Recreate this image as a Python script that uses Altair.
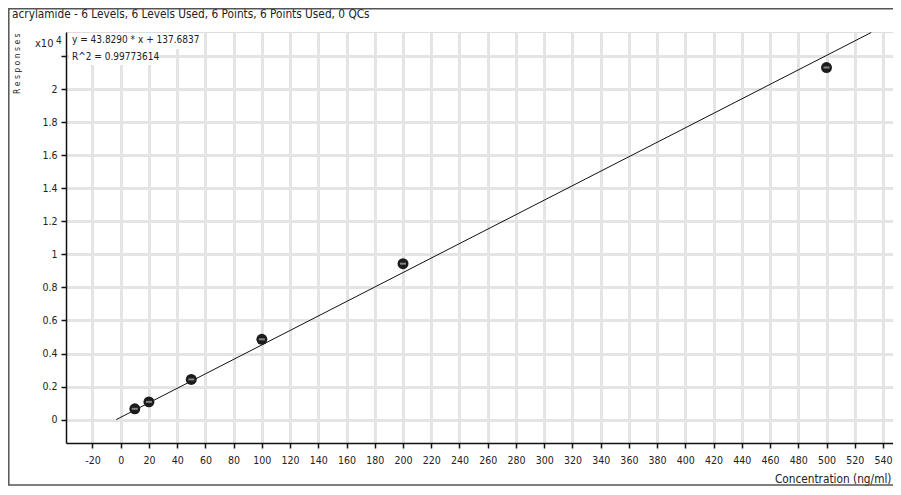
import altair as alt
import pandas as pd

# ---- data ----
conc = [10, 20, 50, 100, 200, 500]                 # ng/ml
resp = [650, 1070, 2430, 4860, 9440, 21320]        # responses
fit_x = [-3.14, 531.7]                             # fitted calibration line end points
fit_y = [0, 23440]
x_ticks = list(range(-20, 541, 20))
y_ticks = [0, 2000, 4000, 6000, 8000, 10000, 12000, 14000, 16000, 18000, 20000, 22000]

title_text = "acrylamide - 6 Levels, 6 Levels Used, 6 Points, 6 Points Used, 0 QCs"
eq_text = "y = 43.8290 * x  + 137.6837"
r2_text = "R^2 = 0.99773614"

FONT = "Liberation Sans Narrow, DejaVu Sans Condensed, Roboto, sans-serif"

W, H = 827, 411
pts = pd.DataFrame({"conc": conc, "resp": resp})
fit = pd.DataFrame({"conc": fit_x, "resp": fit_y})
one = pd.DataFrame({"a": [0]})

xs = alt.Scale(domain=[-38.75, 547.1], nice=False, zero=False)
ys = alt.Scale(domain=[-1420, 23470], nice=False, zero=False)

axis_common = dict(
    grid=True, gridColor="#e4e4e4", gridWidth=3,
    domainColor="#111", domainWidth=1.5,
    tickColor="#111", tickSize=5, tickWidth=1.5, tickCount=200,
    labelFont=FONT, labelFontSize=10.5, labelColor="#222", labelOverlap=False,
    titleFont=FONT, titleFontWeight="normal", titleColor="#222",
)

x_axis = alt.Axis(values=x_ticks, labelPadding=7, labelExpr="toString(datum.value)",
                  title="Concentration (ng/ml)",
                  titleFontSize=11.75, titleX=825, titleY=35, titleAlign="right",
                  titleAnchor="end", titleBaseline="middle", **axis_common)
y_axis = alt.Axis(values=y_ticks, labelPadding=4,
                  labelExpr="datum.value > 21000 ? '' : format(datum.value/10000, '~g')",
                  title="R e s p o n s e s", titleFontSize=8.5, titleAngle=270,
                  titleX=-50, titleY=1, titleAlign="right", titleBaseline="middle",
                  **axis_common)

base_pts = alt.Chart(pts)

line = alt.Chart(fit).mark_line(color="#111", strokeWidth=1).encode(
    x=alt.X("conc:Q", scale=xs, axis=x_axis),
    y=alt.Y("resp:Q", scale=ys, axis=y_axis),
)

dots = base_pts.mark_circle(size=120, color="#1c1c1c", opacity=1).encode(
    x=alt.X("conc:Q", scale=xs), y=alt.Y("resp:Q", scale=ys))
dash = base_pts.mark_tick(orient="horizontal", size=6, thickness=2, color="#b0b0b0").encode(
    x=alt.X("conc:Q", scale=xs), y=alt.Y("resp:Q", scale=ys))

ann = alt.Chart(one)
bg1 = ann.mark_rect(color="white").encode(
    x=alt.value(3), x2=alt.value(131), y=alt.value(1), y2=alt.value(17))
bg2 = ann.mark_rect(color="white").encode(
    x=alt.value(3), x2=alt.value(89), y=alt.value(17), y2=alt.value(33))

def txt(text, x, y, size=11.5, align="left"):
    return ann.mark_text(text=text, font=FONT, fontSize=size, color="#222",
                         align=align, baseline="middle").encode(
        x=alt.value(x), y=alt.value(y))

frame = ann.mark_rect(fillOpacity=0, stroke="#555", strokeWidth=1.5).encode(
    x=alt.value(-57.2), x2=alt.value(845), y=alt.value(-23.2), y2=alt.value(453))

chart = alt.layer(
    line, bg1, bg2,
    txt(eq_text, 6, 8, size=10), txt(r2_text, 6, 25, size=10),
    txt("x10", -31, 12, size=11), txt("4", -10, 9, size=10),
    txt(title_text, -54, -18, size=11.75),
    dots, dash, frame,
).properties(
    width=W, height=H,
    autosize=alt.AutoSizeParams(type="none"),
    padding={"left": 58, "top": 24, "right": 0, "bottom": 43},
).configure_view(stroke=None).configure(background="white")

chart.save("out.html", embed_options={"renderer": "svg", "actions": False})
